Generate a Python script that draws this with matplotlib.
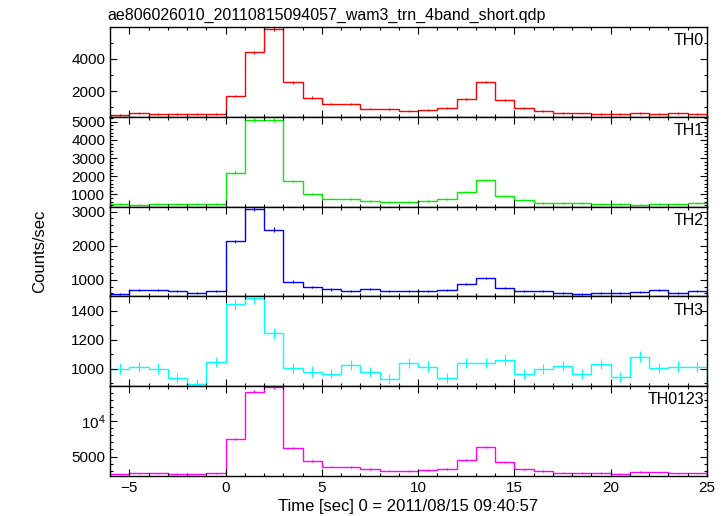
import numpy as np
import matplotlib
matplotlib.use("Agg")
from matplotlib import pyplot as plt
from matplotlib.ticker import MultipleLocator, FuncFormatter

plt.rcParams['font.family'] = ['Liberation Sans', 'DejaVu Sans']
plt.rcParams['mathtext.fontset'] = 'custom'
plt.rcParams['mathtext.rm'] = 'Liberation Sans'

# time bins [sec], 1 s wide
edges = np.arange(-6, 26)

th0 = [545, 650, 588, 588, 607, 588, 1698, 4413, 5830, 2560, 1610, 1205, 1205, 933, 895,
       790, 853, 958, 1513, 2580, 1470, 958, 790, 650, 630, 588, 588, 650, 588, 650, 588]
th0_err = [45, 48, 46, 46, 46, 46, 70, 110, 125, 85, 68, 60, 60, 52, 50,
           48, 50, 52, 65, 85, 65, 52, 48, 46, 46, 46, 46, 46, 46, 46, 46]

th1 = [462, 440, 478, 462, 478, 478, 2198, 5110, 5075, 1742, 1010, 770, 735, 643, 571,
       571, 643, 735, 1137, 1780, 918, 681, 516, 516, 516, 478, 478, 440, 462, 478, 516]
th1_err = [40, 40, 40, 40, 40, 40, 75, 110, 110, 65, 50, 45, 45, 42, 40,
           40, 42, 45, 55, 65, 48, 42, 40, 40, 40, 40, 40, 40, 40, 40, 40]

th2 = [590, 687, 687, 657, 610, 669, 2122, 3070, 2473, 942, 786, 716, 669, 728, 669,
       678, 657, 698, 883, 1050, 757, 678, 678, 610, 570, 610, 610, 648, 698, 600, 678]
th2_err = [30, 32, 32, 31, 30, 31, 55, 65, 60, 36, 34, 32, 31, 32, 31,
           31, 31, 32, 35, 38, 33, 31, 31, 30, 30, 30, 30, 31, 32, 30, 31]

th3 = [1002, 1014, 1002, 938, 895, 1048, 1443, 1484, 1244, 1004, 982, 968, 1025, 980, 932,
       1041, 1016, 938, 1043, 1039, 1064, 966, 1000, 1021, 966, 1034, 943, 1085, 1004, 1016, 1011]
th3_err = [35, 35, 35, 34, 33, 36, 40, 41, 38, 35, 35, 34, 35, 35, 34,
           35, 35, 34, 35, 35, 36, 34, 35, 35, 34, 35, 34, 36, 35, 35, 35]

th0123 = [2486, 2629, 2629, 2529, 2486, 2629, 7486, 14200, 14770, 6200, 4386, 3571, 3524, 3243, 3000,
          2957, 3100, 3243, 4529, 6386, 4186, 3200, 2957, 2714, 2671, 2671, 2529, 2814, 2771, 2629, 2629]
th0123_err = [80, 82, 82, 80, 80, 82, 140, 190, 195, 125, 105, 95, 95, 90, 88,
              88, 90, 90, 105, 125, 102, 90, 88, 85, 85, 85, 82, 86, 85, 82, 82]

names = ['TH0', 'TH1', 'TH2', 'TH3', 'TH0123']
series = [th0, th1, th2, th3, th0123]
errors = [th0_err, th1_err, th2_err, th3_err, th0123_err]
colors = ['#ff0000', '#00ee00', '#0000ff', '#00ffff', '#ff00ff']
ylims = [(420, 5980), (330, 5275), (511, 3146), (881, 1498), (2243, 14950)]
majors = [2000, 1000, 1000, 200, 5000]
minors = [1000, 200, 200, 100, 1000]

fig = plt.figure(figsize=(7.28, 5.16), dpi=100)
left, right = 110 / 728, 707 / 728
top, bottom = 1 - 27 / 516, 1 - 476 / 516
h = (top - bottom) / 5
centers = edges[:-1] + 0.5

for i in range(5):
    ax = fig.add_axes([left, top - (i + 1) * h, right - left, h])
    ax.stairs(series[i], edges, color=colors[i], lw=1.0)
    ax.errorbar(centers, series[i], yerr=errors[i], fmt='none', ecolor=colors[i], elinewidth=0.8)
    ax.set_xlim(-6, 25)
    ax.set_ylim(*ylims[i])
    ax.xaxis.set_major_locator(MultipleLocator(5))
    ax.xaxis.set_minor_locator(MultipleLocator(1))
    ax.yaxis.set_major_locator(MultipleLocator(majors[i]))
    ax.yaxis.set_minor_locator(MultipleLocator(minors[i]))
    ax.tick_params(which='both', direction='in', top=True, right=True, labelsize=11, width=0.8)
    ax.tick_params(which='major', length=5)
    ax.tick_params(which='minor', length=2.5)
    for s in ax.spines.values():
        s.set_linewidth(1.0)
    if i < 4:
        ax.tick_params(labelbottom=False)
    else:
        ax.yaxis.set_major_formatter(FuncFormatter(
            lambda v, p: r'$\mathregular{10^4}$' if v == 10000 else '%d' % v))
    ax.text(0.995, 0.93, names[i], transform=ax.transAxes, ha='right', va='top', fontsize=11.5)

fig.text(left - 3 / 728, 1 - 20 / 516, 'ae806026010_20110815094057_wam3_trn_4band_short.qdp',
         ha='left', va='baseline', fontsize=11.5)
fig.text(40 / 728, 1 - 251 / 516, 'Counts/sec', rotation=90, ha='center', va='center', fontsize=12)
fig.text((left + right) / 2, 1 - 507 / 516, 'Time [sec] 0 = 2011/08/15 09:40:57',
         ha='center', va='center', fontsize=12)

fig.savefig('out.png', dpi=100)
